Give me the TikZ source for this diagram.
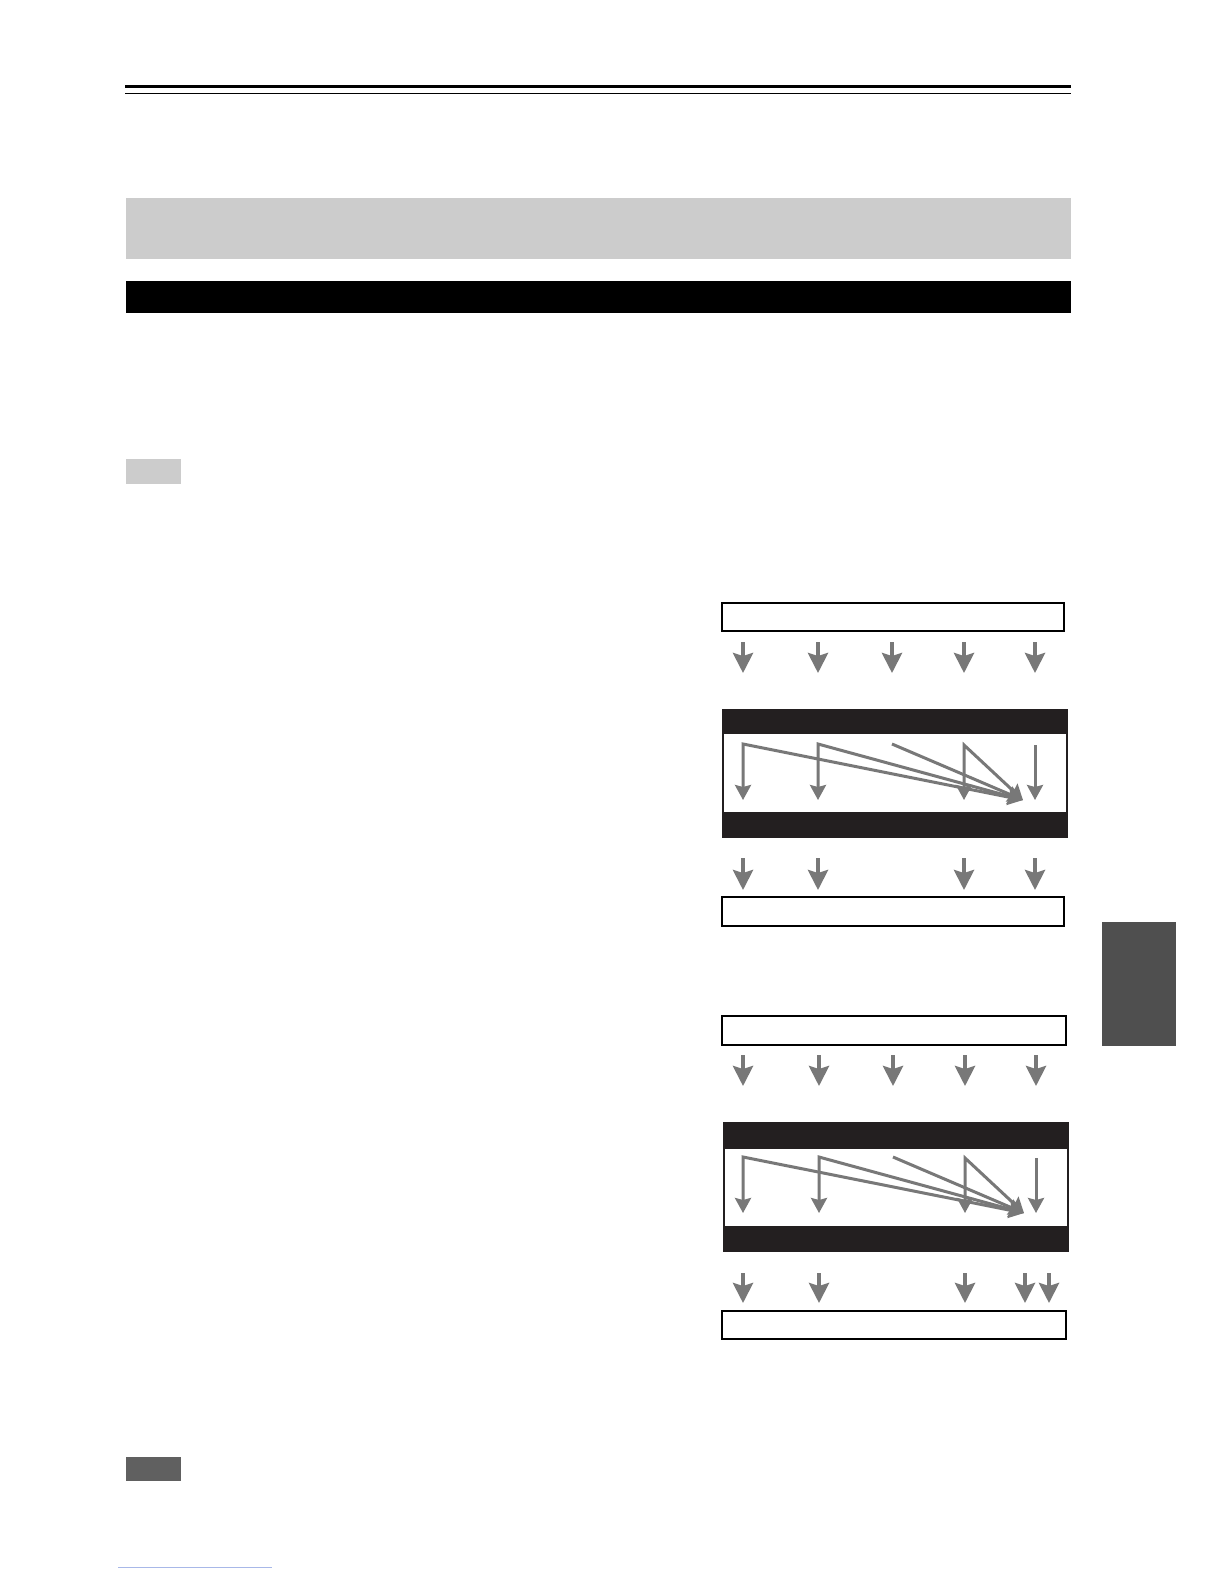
\documentclass[tikz,border=0pt]{standalone}
\usepackage{xcolor}
\usetikzlibrary{arrows.meta}
\definecolor{gris}{HTML}{787878}
\definecolor{franja}{HTML}{231F20}
\definecolor{grisclaro}{HTML}{CCCCCC}
\definecolor{grisoscuro}{HTML}{606060}
\definecolor{pestana}{HTML}{4F4F4F}
\definecolor{enlace}{HTML}{A8B8E8}
\tikzset{
  puntagrande/.tip={Stealth[length=10pt,width=10pt,inset=1.5pt]},
  puntachica/.tip={Stealth[length=7.5pt,width=8pt,inset=1pt]}
}
\begin{document}
\begin{tikzpicture}[x=0.5pt,y=-0.5pt,
	caja/.style={draw=black, line width=0.6pt},
	flecha/.style={draw=gris, line width=2pt, -puntagrande},
	flechita/.style={draw=gris, line width=1.5pt, -puntachica},
	doble/.style={draw=gris, line width=1.5pt, miter limit=20, puntachica-puntachica}]
	\useasboundingbox (0,0) rectangle (1224,1584);
	\fill[white] (0,0) rectangle (1224,1584);
	
	% Cabecera de la pagina
	\fill[black] (125,85) rectangle (1071,88);
	\draw[black, line width=0.5pt] (125,93.5) -- (1071,93.5);
	\fill[grisclaro] (126,198) rectangle (1071,259);
	\fill[black] (126,281) rectangle (1071,313);
	\fill[grisclaro] (126,459) rectangle (181,484);
	\fill[grisoscuro] (126,1457) rectangle (181,1481);
	\fill[pestana] (1102,922) rectangle (1176,1046);
	\draw[enlace, line width=0.5pt] (118,1567) -- (272,1567);
	
	% Primer esquema
	\draw[caja] (722,603) rectangle (1064,631);
	\draw[flecha] (743,642) -- (743,673);
	\draw[flecha] (818,642) -- (818,673);
	\draw[flecha] (892,642) -- (892,673);
	\draw[flecha] (964,642) -- (964,673);
	\draw[flecha] (1035,642) -- (1035,673);
	
	\draw[franja, line width=0.6pt] (723,710) rectangle (1067,837);
	\fill[franja] (723,710) rectangle (1067,734);
	\fill[franja] (723,812) rectangle (1067,837);
	
	\draw[doble] (743,800) -- (743,744) -- (1023,800);
	\draw[doble] (818,800) -- (818,744) -- (1023,800);
	\draw[flechita] (892,744) -- (1023,800);
	\draw[doble] (964,800) -- (964,745) -- (1023,800);
	\draw[flechita] (1035,745) -- (1035,800);
	
	\draw[flecha] (743,858) -- (743,890);
	\draw[flecha] (818,858) -- (818,890);
	\draw[flecha] (964,858) -- (964,890);
	\draw[flecha] (1035,858) -- (1035,890);
	\draw[caja] (722,897) rectangle (1064,926);
	
	% Segundo esquema
	\draw[caja] (722,1016) rectangle (1066,1045);
	\draw[flecha] (743,1055) -- (743,1086);
	\draw[flecha] (819,1055) -- (819,1086);
	\draw[flecha] (893,1055) -- (893,1086);
	\draw[flecha] (965,1055) -- (965,1086);
	\draw[flecha] (1036,1055) -- (1036,1086);
	
	\draw[franja, line width=0.6pt] (724,1123) rectangle (1068,1251);
	\fill[franja] (724,1123) rectangle (1068,1149);
	\fill[franja] (724,1226) rectangle (1068,1251);
	
	\draw[doble] (743,1213) -- (743,1157) -- (1024,1213);
	\draw[doble] (819,1213) -- (819,1157) -- (1024,1213);
	\draw[flechita] (893,1157) -- (1024,1213);
	\draw[doble] (965,1213) -- (965,1158) -- (1024,1213);
	\draw[flechita] (1036,1158) -- (1036,1213);
	
	\draw[flecha] (743,1273) -- (743,1303);
	\draw[flecha] (819,1273) -- (819,1303);
	\draw[flecha] (965,1273) -- (965,1303);
	\draw[flecha] (1025,1273) -- (1025,1303);
	\draw[flecha] (1049,1273) -- (1049,1303);
	\draw[caja] (722,1311) rectangle (1066,1339);
\end{tikzpicture}
\end{document}
